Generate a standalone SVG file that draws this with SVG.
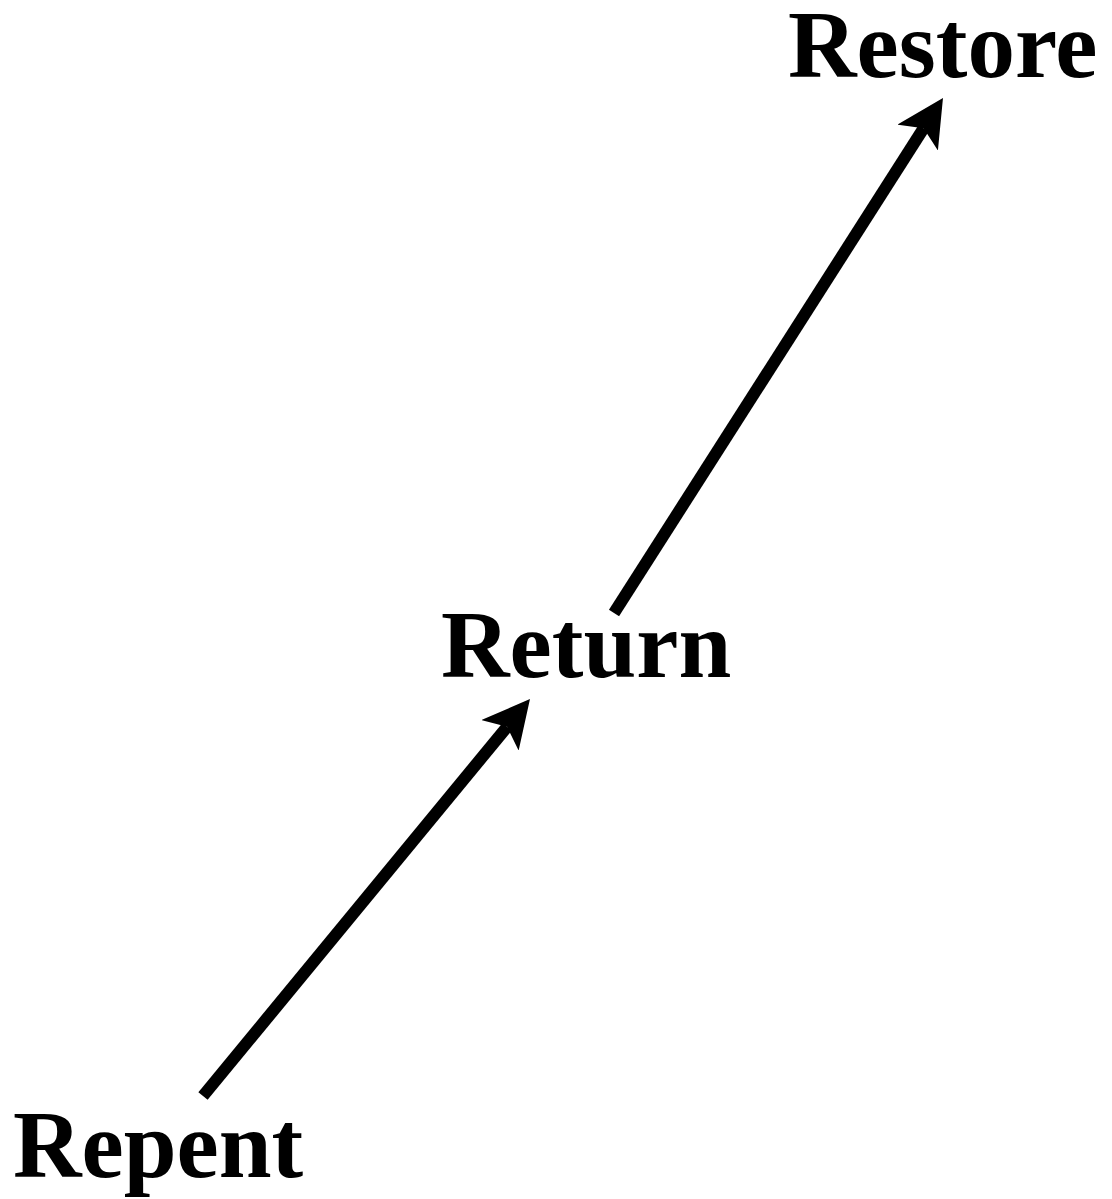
<svg xmlns="http://www.w3.org/2000/svg" width="1112" height="1199" viewBox="0 0 1112 1199">
  <style>
    .label { font-family: "Liberation Serif", "Times New Roman", serif; font-weight: bold; font-size: 95px; fill: #000; }
    .edge { stroke: #000; stroke-width: 12; fill: none; }
  </style>
  <defs>
    <marker id="arrow" markerUnits="userSpaceOnUse" viewBox="0 -24 47 48" markerWidth="47" markerHeight="48" refX="11" refY="0" orient="auto">
      <path d="M0,-24 L47,0 L0,24 L11,0 z" fill="#000"/>
    </marker>
  </defs>
  <rect width="1112" height="1199" fill="#fff"/>
  <g id="connectors">
    <line class="edge" x1="203" y1="1096" x2="507.1" y2="726.8" marker-end="url(#arrow)"/>
    <line class="edge" x1="614" y1="613" x2="923.6" y2="128.3" marker-end="url(#arrow)"/>
  </g>
  <g id="node-restore">
    <text class="label" x="788" y="77">Restore</text>
  </g>
  <g id="node-return">
    <text class="label" x="441" y="677">Return</text>
  </g>
  <g id="node-repent">
    <text class="label" x="13" y="1177">Repent</text>
  </g>
</svg>
